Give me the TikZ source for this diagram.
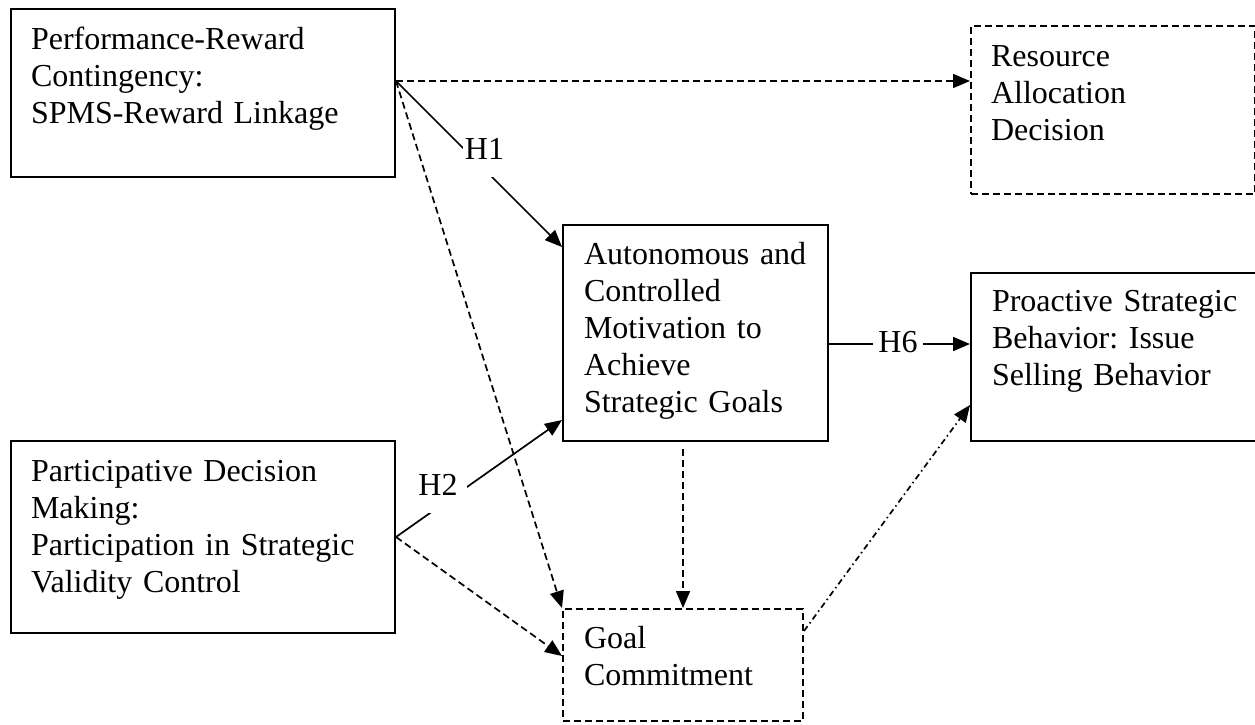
\documentclass[tikz,border=0pt]{standalone}
\usepackage{fontspec}
\setmainfont{Liberation Serif}
\usetikzlibrary{arrows.meta}
\frenchspacing

\begin{document}
\begin{tikzpicture}[x=1pt, y=-1pt,
  box/.style={draw, line width=2pt, rectangle, align=left, anchor=north west,
    inner xsep=20pt, inner ysep=0pt, font=\fontsize{32}{37}\selectfont},
  dbox/.style={box, dash pattern=on 7pt off 4pt},
  link/.style={line width=1.7pt, -{Triangle[length=17pt,width=14pt]}},
  dlink/.style={link, dash pattern=on 7pt off 4pt},
  ddlink/.style={link, dash pattern=on 6pt off 3.5pt on 1.5pt off 3.5pt},
  hyp/.style={fill=white, anchor=base, inner ysep=0pt, text depth=18pt,
    font=\fontsize{32}{37}\selectfont}
]
\useasboundingbox (0,0) rectangle (1255,724);

% constructs
\node[box, text width=344pt, text height=40pt, text depth=128pt] (pr) at (10,8)
  {Performance-Reward\\Contingency:\\SPMS-Reward Linkage};
\node[dbox, text width=244pt, text height=40pt, text depth=128pt] (ra) at (970,25)
  {Resource\\Allocation\\Decision};
\node[box, inner xsep=21pt, text width=223pt, text height=39pt, text depth=177pt] (auton) at (562,224)
  {Autonomous and\\Controlled\\Motivation to\\Achieve\\Strategic Goals};
\node[box, inner xsep=21pt, text width=246pt, text height=38pt, text depth=130pt] (pro) at (970,272)
  {Proactive Strategic\\Behavior: Issue\\Selling Behavior};
\node[box, text width=344pt, text height=40pt, text depth=152pt] (pd) at (10,440)
  {Participative Decision\\Making:\\Participation in Strategic\\Validity Control};
\node[dbox, inner xsep=21pt, text width=198pt, text height=39pt, text depth=73pt] (goal) at (562,608)
  {Goal\\Commitment};

% attachment points
\coordinate (prout) at ([yshift=12pt]pr.east);
\coordinate (autout) at ([yshift=-11pt]auton.east);
\coordinate (goalout) at ([yshift=34pt]goal.east);

% relationships
\draw[dlink] (prout) -- (ra.west |- prout);
\draw[link] (prout) -- ([yshift=-23pt]auton.north west);
\draw[dlink] (prout) -- (goal.north west);
\draw[link] (pd.east) -- ([yshift=22pt]auton.south west);
\draw[dlink] (pd.east) -- ([yshift=9pt]goal.west);
\draw[dlink, shorten <=7pt] (goal.north |- auton.south) -- (goal.north);
\draw[link] (autout) -- (pro.west |- autout);
\draw[ddlink] (goalout) -- ([yshift=37pt]pro.south west);

% hypothesis labels
\node[hyp, inner xsep=2pt] (h1) at (484.5,159) {H1};
\node[hyp, inner xsep=9.5pt] (h2) at (438,495) {H2};
\node[hyp, inner xsep=5.5pt, text depth=4pt] (h6) at (898,352) {H6};
\end{tikzpicture}
\end{document}
